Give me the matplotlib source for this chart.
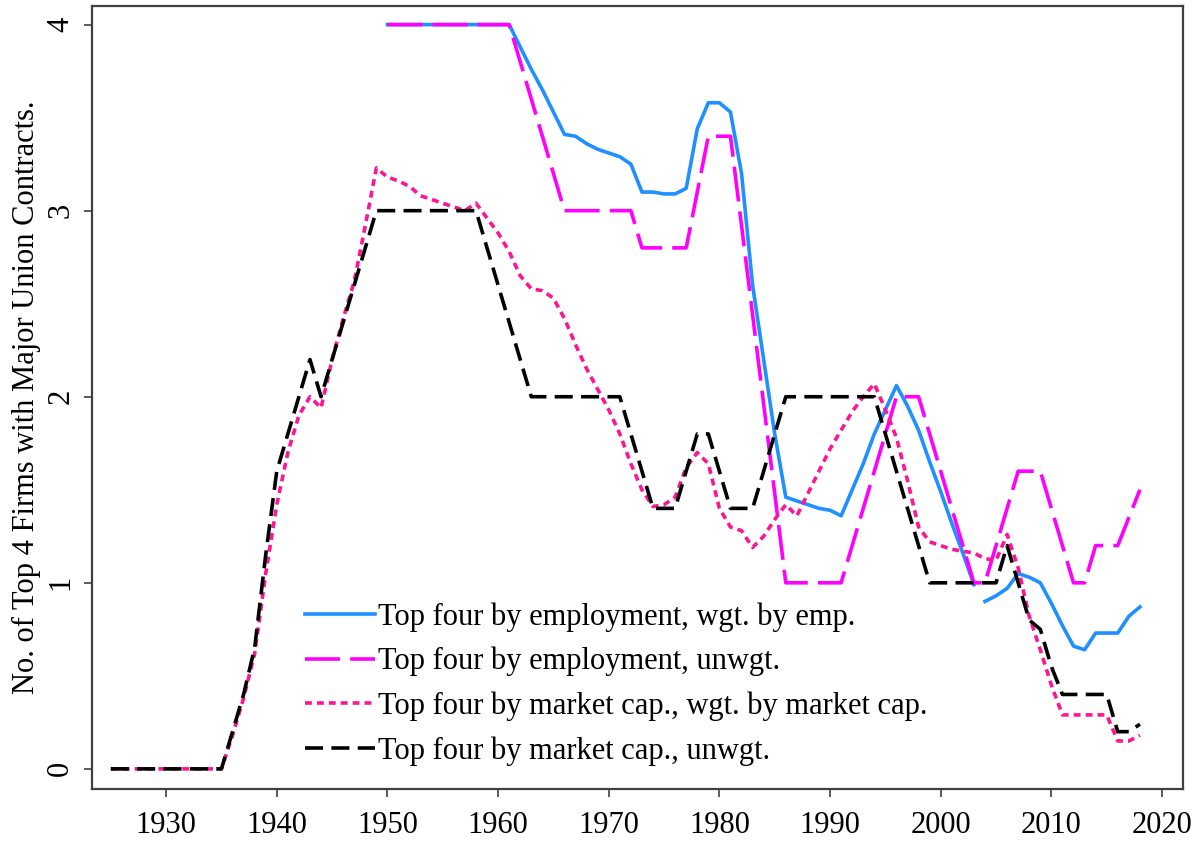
import numpy as np
import matplotlib
matplotlib.use("Agg")
import matplotlib.pyplot as plt

# Top-4 firms covered by major union contracts, by year
mcap_years = np.arange(1925, 2019)
emp_years_a = np.arange(1950, 2004)
emp_years_b = np.arange(2004, 2019)

# Top four by employment, weighted by employment (series breaks after 2003)
emp_wgt_a = [4.0, 4.0, 4.0, 4.0, 4.0, 4.0, 4.0, 4.0, 4.0, 4.0, 4.0, 4.0,
             3.88, 3.76, 3.65, 3.53, 3.41, 3.40, 3.36, 3.33, 3.31, 3.29,
             3.25, 3.10, 3.10, 3.09, 3.09, 3.12, 3.44, 3.58, 3.58, 3.53,
             3.20, 2.60, 2.20, 1.80, 1.46, 1.44, 1.42, 1.40, 1.39, 1.36,
             1.50, 1.64, 1.80, 1.93, 2.06, 1.95, 1.82, 1.65, 1.49, 1.32,
             1.16, 0.99]
emp_wgt_b = [0.90, 0.93, 0.97, 1.05, 1.03, 1.00, 0.89, 0.77, 0.66, 0.64,
             0.73, 0.73, 0.73, 0.82, 0.87]

# Top four by employment, unweighted
emp_unwgt = [4.0, 4.0, 4.0, 4.0, 4.0, 4.0, 4.0, 4.0, 4.0, 4.0, 4.0, 4.0,
             3.8, 3.6, 3.4, 3.2, 3.0, 3.0, 3.0, 3.0, 3.0, 3.0, 3.0,
             2.8, 2.8, 2.8, 2.8, 2.8, 3.1, 3.4, 3.4, 3.4,
             2.92, 2.44, 1.96, 1.48, 1.0, 1.0, 1.0, 1.0, 1.0, 1.0,
             1.2, 1.4, 1.6, 1.8, 2.0, 2.0, 2.0, 1.8, 1.6, 1.4, 1.2, 1.0,
             1.0, 1.2, 1.4, 1.6, 1.6, 1.6, 1.4, 1.2, 1.0, 1.0, 1.2, 1.2,
             1.2, 1.35, 1.5]

# Top four by market cap, weighted by market cap
mcap_wgt = [0, 0, 0, 0, 0, 0, 0, 0, 0, 0, 0,
            0.18, 0.38, 0.62, 1.05, 1.42, 1.70, 1.90, 2.0, 1.94, 2.2,
            2.42, 2.62, 2.92, 3.23,
            3.18, 3.16, 3.13, 3.08, 3.06, 3.04, 3.02, 3.0, 3.04,
            2.96, 2.88, 2.78, 2.65, 2.58, 2.57, 2.53, 2.42, 2.28, 2.15,
            2.04, 1.93, 1.80, 1.64, 1.50, 1.41, 1.42, 1.46, 1.62, 1.70,
            1.64, 1.40, 1.30, 1.28, 1.19, 1.25, 1.34, 1.42, 1.36, 1.48,
            1.60, 1.72, 1.82, 1.92, 2.0, 2.07, 1.93, 1.78, 1.55, 1.30,
            1.22, 1.20, 1.18, 1.17, 1.16, 1.13, 1.12, 1.26, 1.08, 0.82,
            0.64, 0.45, 0.29, 0.29, 0.29, 0.29, 0.29, 0.15, 0.15, 0.18]

# Top four by market cap, unweighted
mcap_unwgt = [0, 0, 0, 0, 0, 0, 0, 0, 0, 0, 0,
              0.2, 0.4, 0.65, 1.15, 1.6, 1.8, 2.0, 2.2, 2.0, 2.2,
              2.4, 2.6, 2.8, 3.0,
              3.0, 3.0, 3.0, 3.0, 3.0, 3.0, 3.0, 3.0, 3.0,
              2.8, 2.6, 2.4, 2.2, 2.0,
              2.0, 2.0, 2.0, 2.0, 2.0, 2.0, 2.0, 2.0,
              1.8, 1.6, 1.4, 1.4, 1.4, 1.6, 1.8, 1.8, 1.6, 1.4, 1.4, 1.4,
              1.6, 1.8, 2.0,
              2.0, 2.0, 2.0, 2.0, 2.0, 2.0, 2.0, 2.0,
              1.8, 1.6, 1.4, 1.2, 1.0, 1.0, 1.0, 1.0, 1.0, 1.0, 1.0,
              1.2, 1.0, 0.8, 0.75, 0.55, 0.4, 0.4, 0.4, 0.4, 0.4,
              0.2, 0.2, 0.24]

labels = ["Top four by employment, wgt. by emp.",
          "Top four by employment, unwgt.",
          "Top four by market cap., wgt. by market cap.",
          "Top four by market cap., unwgt."]

plt.rcParams['font.family'] = ['Liberation Serif', 'DejaVu Serif']
FS = 22

fig = plt.figure(figsize=(12.04, 8.44), dpi=100)
ax = fig.add_axes([0.0764, 0.0652, 0.9062, 0.9277])

lw = 2.6
ax.plot(emp_years_a, emp_wgt_a, color='#1e90ff', lw=lw, label=labels[0])
ax.plot(emp_years_b, emp_wgt_b, color='#1e90ff', lw=lw)
ax.plot(emp_years_a.tolist() + emp_years_b.tolist(), emp_unwgt,
        color='#ff00ff', lw=lw, dashes=(9.7, 2.8), label=labels[1])
ax.plot(mcap_years, mcap_wgt, color='#ff1493', lw=lw, dashes=(1.9, 1.4),
        label=labels[2])
ax.plot(mcap_years, mcap_unwgt, color='black', lw=lw, dashes=(5.0, 2.3),
        label=labels[3])

ax.set_xlim(1923.3, 2021.9)
ax.set_ylim(-0.108, 4.10)
ax.set_xticks(np.arange(1930, 2021, 10))
ax.set_yticks([0, 1, 2, 3, 4])

for s in ax.spines.values():
    s.set_color('#404040')
    s.set_linewidth(1.6)
ax.tick_params(axis='both', direction='out', length=6, width=1.2,
               color='#404040', labelsize=FS)
ax.tick_params(axis='y', labelrotation=90, pad=6)
ax.tick_params(axis='x', pad=10)
for t in ax.get_yticklabels():
    t.set_va('center')

ax.set_ylabel("No. of Top 4 Firms with Major Union Contracts.", fontsize=FS,
              labelpad=4)

ax.legend(loc='lower left', bbox_to_anchor=(0.181, 0.01), frameon=False,
          fontsize=FS, handlelength=2.3, handletextpad=0.1,
          labelspacing=0.5, borderpad=0)

fig.savefig("out.png", dpi=100)
